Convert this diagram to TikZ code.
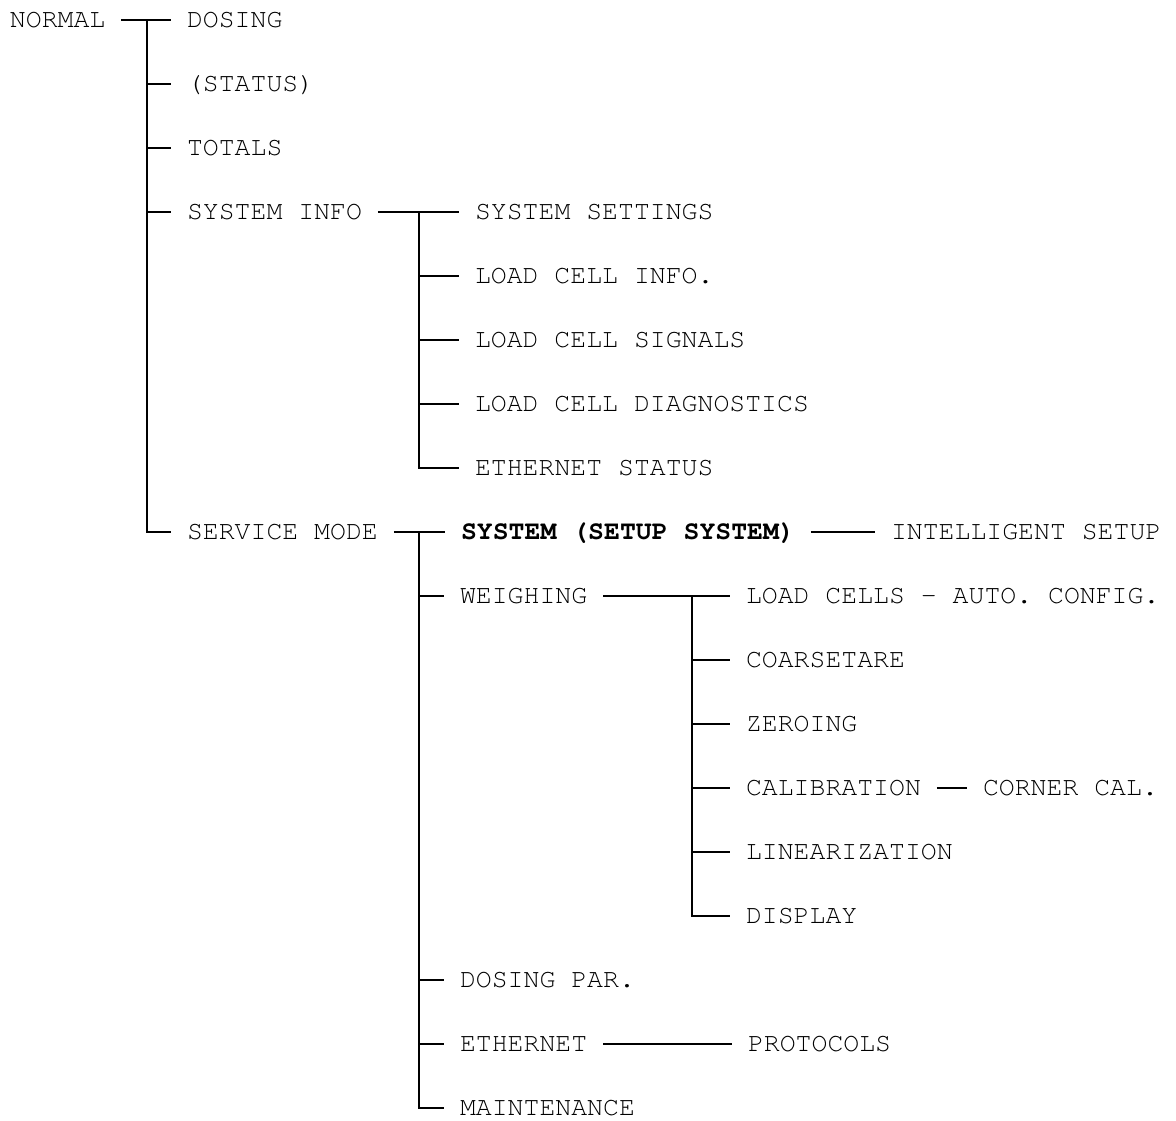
\documentclass[tikz,border=0pt]{standalone}
\usepackage[T1]{fontenc}
\usepackage{courier}
\usepackage{tikz}

\begin{document}
\begin{tikzpicture}[x=0.5pt,y=-0.5pt,line width=1pt,
    menu/.style={anchor=west,inner sep=0pt,outer xsep=8pt,text height=7.5pt,text depth=0pt,
      font=\ttfamily\fontsize{13.25}{16}\selectfont}]
    \useasboundingbox (0,0) rectangle (1176,1120);

    \node[menu] (normal) at (-6,20) {NORMAL};
    \node[menu] (dosing) at (171,20) {DOSING};
    \node[menu] (status) at (171,84) {(STATUS)};
    \node[menu] (totals) at (171,148) {TOTALS};
    \node[menu] (sysinfo) at (171,212) {SYSTEM INFO};
    \node[menu] (settings) at (459,212) {SYSTEM SETTINGS};
    \node[menu] (lcinfo) at (459,276) {LOAD CELL INFO.};
    \node[menu] (lcsignals) at (459,340) {LOAD CELL SIGNALS};
    \node[menu] (lcdiag) at (459,404) {LOAD CELL DIAGNOSTICS};
    \node[menu] (ethstatus) at (459,468) {ETHERNET STATUS};
    \node[menu] (service) at (171,532) {SERVICE MODE};
    \node[menu] (setup) at (445,532) {\textbf{SYSTEM (SETUP SYSTEM)}};
    \node[menu] (intelligent) at (875,532) {INTELLIGENT SETUP};
    \node[menu] (weighing) at (444,596) {WEIGHING};
    \node[menu] (lcauto) at (730,596) {LOAD CELLS \textendash{} AUTO. CONFIG.};
    \node[menu] (coarse) at (730,660) {COARSETARE};
    \node[menu] (zeroing) at (730,724) {ZEROING};
    \node[menu] (calib) at (730,788) {CALIBRATION};
    \node[menu] (corner) at (967,788) {CORNER CAL.};
    \node[menu] (linear) at (730,852) {LINEARIZATION};
    \node[menu] (display) at (730,916) {DISPLAY};
    \node[menu] (dospar) at (444,980) {DOSING PAR.};
    \node[menu] (ethernet) at (444,1044) {ETHERNET};
    \node[menu] (protocols) at (732,1044) {PROTOCOLS};
    \node[menu] (maint) at (444,1108) {MAINTENANCE};

    \coordinate (normalbus) at (147,20);
    \draw (normal.east) -- (dosing.west);
    \draw (normalbus) |- (service.west);
    \draw (normalbus |- status.west) -- (status.west);
    \draw (normalbus |- totals.west) -- (totals.west);
    \draw (normalbus |- sysinfo.west) -- (sysinfo.west);

    \coordinate (infobus) at (419,212);
    \draw (sysinfo.east) -- (settings.west);
    \draw (infobus) |- (ethstatus.west);
    \draw (infobus |- lcinfo.west) -- (lcinfo.west);
    \draw (infobus |- lcsignals.west) -- (lcsignals.west);
    \draw (infobus |- lcdiag.west) -- (lcdiag.west);

    \coordinate (servicebus) at (419,532);
    \draw (service.east) -- (setup.west);
    \draw (setup.east) -- (intelligent.west);
    \draw (servicebus) |- (maint.west);
    \draw (servicebus |- weighing.west) -- (weighing.west);
    \draw (servicebus |- dospar.west) -- (dospar.west);
    \draw (servicebus |- ethernet.west) -- (ethernet.west);
    \draw (ethernet.east) -- (protocols.west);

    \coordinate (weighbus) at (692,596);
    \draw (weighing.east) -- (lcauto.west);
    \draw (weighbus) |- (display.west);
    \draw (weighbus |- coarse.west) -- (coarse.west);
    \draw (weighbus |- zeroing.west) -- (zeroing.west);
    \draw (weighbus |- calib.west) -- (calib.west);
    \draw (weighbus |- linear.west) -- (linear.west);
    \draw (calib.east) -- (corner.west);
\end{tikzpicture}
\end{document}
